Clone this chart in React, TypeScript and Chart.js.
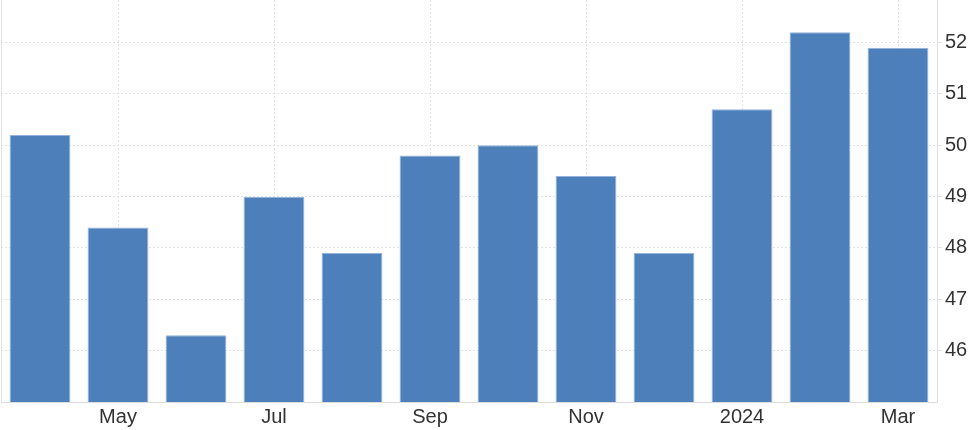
import React, { useEffect, useRef } from "react";
import Chart from "chart.js/auto";

const categories = ["Apr", "May", "Jun", "Jul", "Aug", "Sep", "Oct", "Nov", "Dec", "Jan", "Feb", "Mar"];
const xTickLabels = ["", "May", "", "Jul", "", "Sep", "", "Nov", "", "2024", "", "Mar"];
const pmiValues = [50.2, 48.4, 46.3, 49.0, 47.9, 49.8, 50.0, 49.4, 47.9, 50.7, 52.2, 51.9];
const yTicks = [46, 47, 48, 49, 50, 51, 52];

const leftEdge = {
  id: "leftEdge",
  afterDraw(chart: any) {
    const { ctx, chartArea } = chart;
    ctx.save();
    ctx.strokeStyle = "#e2e2e2";
    ctx.lineWidth = 1;
    ctx.beginPath();
    ctx.moveTo(chartArea.left + 0.5, chartArea.top);
    ctx.lineTo(chartArea.left + 0.5, chartArea.bottom);
    ctx.stroke();
    ctx.restore();
  },
};

export default function App() {
  const ref = useRef<HTMLCanvasElement>(null);
  useEffect(() => {
    document.body.style.margin = "0";
    const chart = new Chart(ref.current!, {
      type: "bar",
      data: {
        labels: categories,
        datasets: [
          {
            data: pmiValues,
            backgroundColor: "#4d7fba",
            borderColor: "#93b3da",
            borderWidth: 1,
            barPercentage: 0.78,
            categoryPercentage: 1,
          },
        ],
      },
      options: {
        animation: false,
        responsive: true,
        maintainAspectRatio: false,
        layout: { padding: { left: 1, top: 0, right: 0, bottom: 0 } },
        plugins: { legend: { display: false }, tooltip: { enabled: false } },
        scales: {
          x: {
            offset: true,
            grid: {
              offset: false,
              drawTicks: false,
              color: (c: any) => (c.index % 2 === 1 ? "#e3e3e3" : "rgba(0,0,0,0)"),
            },
            border: { display: true, color: "#dddddd", dash: [2, 2] },
            ticks: {
              autoSkip: false,
              maxRotation: 0,
              padding: 3,
              color: "#333333",
              font: { family: "Arial, 'Liberation Sans'", size: 20 },
              callback: (_v: any, i: number) => xTickLabels[i],
            },
            afterFit: (s: any) => {
              s.height = 28;
              s.paddingLeft = 0;
              s.paddingRight = 0;
            },
          },
          y: {
            position: "right",
            min: 45,
            max: 52.83,
            afterBuildTicks: (s: any) => {
              s.ticks = yTicks.map((v) => ({ value: v }));
            },
            afterFit: (s: any) => {
              s.width = 38;
              s.paddingTop = 0;
              s.paddingBottom = 0;
            },
            grid: {
              color: "#e3e3e3",
              tickColor: "#e3e3e3",
              tickLength: 5,
            },
            border: { display: true, color: "#dddddd", dash: [2, 2] },
            ticks: {
              padding: 3,
              color: "#333333",
              font: { family: "Arial, 'Liberation Sans'", size: 20 },
              callback: (v: any) => String(v),
            },
          },
        },
      },
      plugins: [leftEdge],
    });
    return () => chart.destroy();
  }, []);
  return (
    <div style={{ width: 975, height: 430, position: "relative" }}>
      <canvas ref={ref} />
    </div>
  );
}
